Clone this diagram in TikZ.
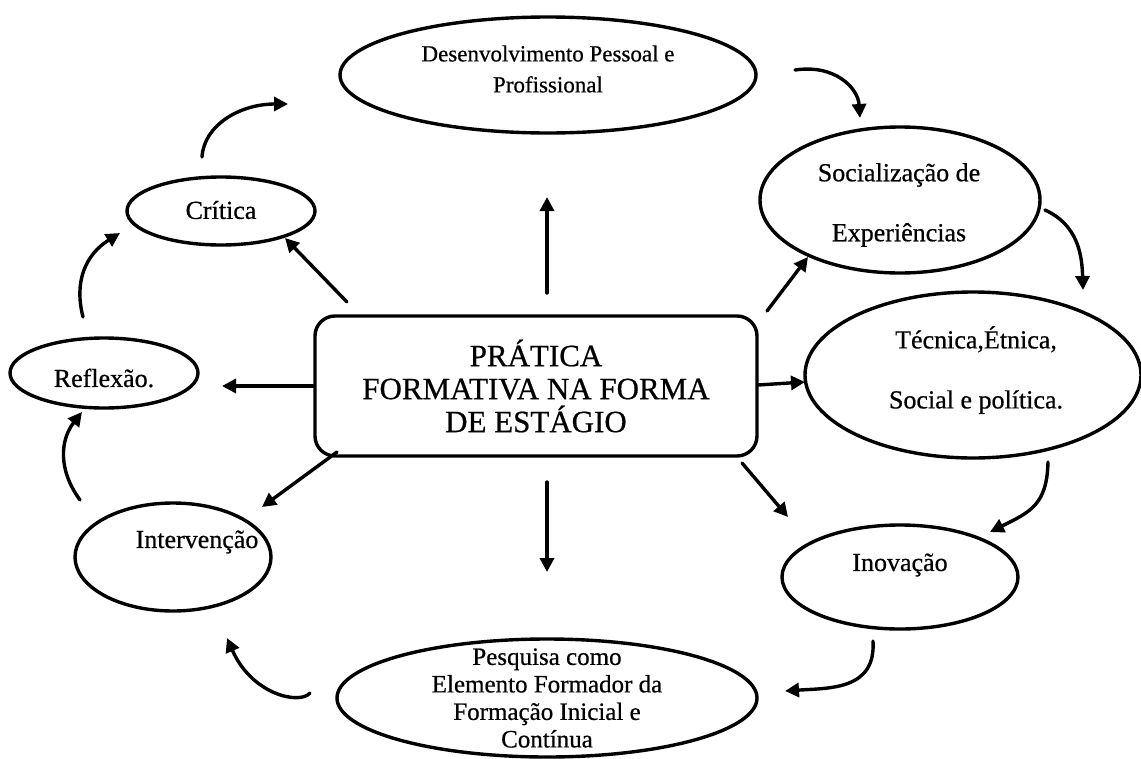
\documentclass[tikz,border=0pt]{standalone}
\usepackage{fontspec}
\setmainfont{Liberation Serif}
\newfontfamily\lbf{Liberation Serif}[FakeBold=0.6]
\usetikzlibrary{shapes.geometric,arrows.meta}
\begin{document}
\begin{tikzpicture}[x=1pt,y=-1pt,
  oval/.style={draw,ellipse,line width=3.4pt,inner sep=0pt},
  lbl/.style={font=\lbf\fontsize{26}{28}\selectfont,align=center,inner sep=0pt},
  arr/.style={line width=3.4pt,line cap=round,-{Triangle[length=14pt,width=14pt]}},
]
\useasboundingbox (0,0) rectangle (1141,758);

% shapes
\node[oval,minimum width=416pt,minimum height=116pt] (des) at (548,75) {};
\node[oval,minimum width=188pt,minimum height=68pt] (cri) at (221,211) {};
\node[oval,minimum width=188pt,minimum height=70pt] (ref) at (104,373) {};
\node[oval,minimum width=196pt,minimum height=108pt] (int) at (173,557) {};
\node[oval,minimum width=420pt,minimum height=118pt] (pes) at (547,698) {};
\node[oval,minimum width=236pt,minimum height=104pt] (ino) at (900,577) {};
\node[oval,minimum width=336pt,minimum height=166pt] (tec) at (973,375) {};
\node[oval,minimum width=280pt,minimum height=146pt] (soc) at (900,200) {};
\node[draw,line width=3.4pt,rounded corners=20pt,minimum width=442pt,minimum height=140pt] (ctr) at (536,386) {};

% texts
\node[lbl,font=\lbf\fontsize{23}{31}\selectfont] (desT) at (548,69) {Desenvolvimento Pessoal e\\Profissional};
\node[lbl] (criT) at (221,210) {Crítica};
\node[lbl] (refT) at (104,378) {Reflexão.};
\node[lbl] (intT) at (197,542) {Intervenção};
\node[lbl] (inoT) at (900,565) {Inovação};
\node[lbl,font=\lbf\fontsize{25}{27.5}\selectfont] (pesT) at (547,698) {Pesquisa como\\Elemento Formador da\\Formação Inicial e\\Contínua};
\node[lbl,font=\lbf\fontsize{26}{60}\selectfont] (tecT) at (976,370) {Técnica,Étnica,\\Social e política.};
\node[lbl,font=\lbf\fontsize{26}{60}\selectfont] (socT) at (899,205) {Socialização de\\Experiências};
\node[lbl,font=\lbf\fontsize{31}{33}\selectfont] (ctrT) at (536,386) {PRÁTICA\\FORMATIVA NA FORMA\\DE ESTÁGIO};

% straight arrow endpoints
\coordinate (u0) at (547,293); \coordinate (u1) at (547,197);
\coordinate (c0) at (347,302); \coordinate (c1) at (285,238);
\coordinate (l0) at (313,386); \coordinate (l1) at (222,386);
\coordinate (i0) at (337,452); \coordinate (i1) at (262,507);
\coordinate (d0) at (547,482); \coordinate (d1) at (547,572);
\coordinate (n0) at (742,463); \coordinate (n1) at (788,517);
\coordinate (r0) at (758,385); \coordinate (r1) at (805,382);
\coordinate (s0) at (767,311); \coordinate (s1) at (808,257);

\draw[arr] (u0) -- (u1);
\draw[arr] (c0) -- (c1);
\draw[arr] (l0) -- (l1);
\draw[arr] (i0) -- (i1);
\draw[arr] (d0) -- (d1);
\draw[arr] (n0) -- (n1);
\draw[arr] (r0) -- (r1);
\draw[arr] (s0) -- (s1);

% cycle arrows
\coordinate (a1s) at (202,157); \coordinate (a1e) at (288,104);
\coordinate (a2s) at (795,70);  \coordinate (a2e) at (860,118);
\coordinate (a3s) at (1045,210); \coordinate (a3e) at (1083,290);
\coordinate (a4s) at (1048,462); \coordinate (a4e) at (990,532);
\coordinate (a5s) at (873,641); \coordinate (a5e) at (785,691);
\coordinate (a6s) at (310,693); \coordinate (a6e) at (227,638);
\coordinate (a7s) at (80,500);  \coordinate (a7e) at (82,412);
\coordinate (a8s) at (83,317);  \coordinate (a8e) at (120,233);

\draw[arr] (a1s) .. controls (204,125) and (240,104) .. (a1e);
\draw[arr] (a2s) .. controls (835,64) and (858,88) .. (a2e);
\draw[arr] (a3s) .. controls (1078,225) and (1082,255) .. (a3e);
\draw[arr] (a4s) .. controls (1047,505) and (1030,512) .. (a4e);
\draw[arr] (a5s) .. controls (876,690) and (830,688) .. (a5e);
\draw[arr] (a6s) .. controls (300,705) and (252,695) .. (a6e);
\draw[arr] (a7s) .. controls (58,470) and (60,440) .. (a7e);
\draw[arr] (a8s) .. controls (74,282) and (85,255) .. (a8e);
\end{tikzpicture}
\end{document}
